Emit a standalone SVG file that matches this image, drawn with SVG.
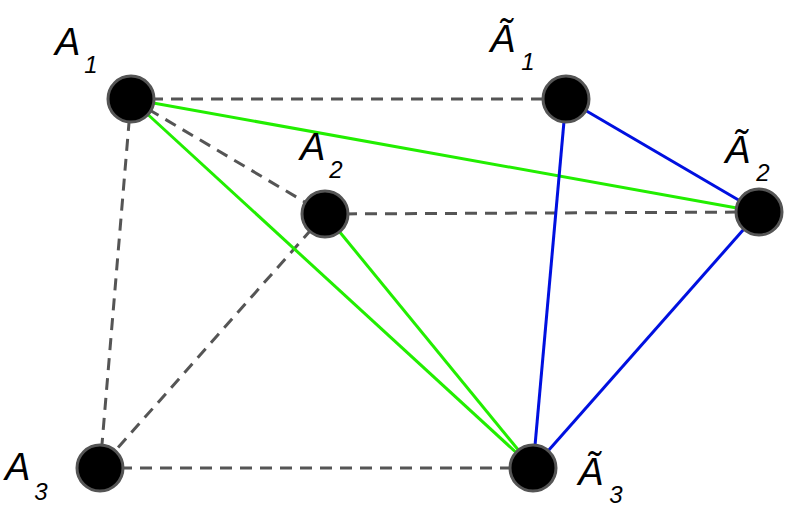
<svg xmlns="http://www.w3.org/2000/svg" width="796" height="522" viewBox="0 0 796 522">
<style>
.d{stroke:#555;stroke-width:3;stroke-dasharray:12,8;fill:none}
.g{stroke:#22ee00;stroke-width:3;fill:none}
.b{stroke:#0010e0;stroke-width:3;fill:none}
.n{fill:#000;stroke:#555;stroke-width:3}
.t{font-family:"Liberation Sans",Arial,sans-serif;font-style:italic;font-size:38px;fill:#000}
.s{font-size:24px}
</style>
<rect width="796" height="522" fill="#fff"/>
<g id="connectors">
<line class="d" x1="131" y1="99" x2="566" y2="99"/>
<line class="d" x1="131" y1="99" x2="325" y2="214"/>
<line class="d" x1="131" y1="99" x2="100" y2="468"/>
<line class="d" x1="325" y1="214" x2="759" y2="212"/>
<line class="d" x1="325" y1="214" x2="100" y2="468"/>
<line class="d" x1="100" y1="468" x2="533" y2="468"/>
<line class="g" x1="131" y1="99" x2="759" y2="212"/>
<line class="g" x1="131" y1="99" x2="533" y2="468"/>
<line class="g" x1="325" y1="214" x2="533" y2="468"/>
<line class="b" x1="566" y1="99" x2="759" y2="212"/>
<line class="b" x1="566" y1="99" x2="533" y2="468"/>
<line class="b" x1="759" y1="212" x2="533" y2="468"/>
</g>
<g id="A1"><circle class="n" cx="131" cy="99" r="23"/><text class="t" x="55" y="55">A<tspan class="s" dx="4" dy="18">1</tspan></text></g>
<g id="A2"><circle class="n" cx="325" cy="214" r="23"/><text class="t" x="300" y="160">A<tspan class="s" dx="4" dy="18">2</tspan></text></g>
<g id="A3"><circle class="n" cx="100" cy="468" r="23"/><text class="t" x="5" y="480">A<tspan class="s" dx="4" dy="20">3</tspan></text></g>
<g id="At1"><circle class="n" cx="566" cy="99" r="23"/><text class="t" x="490" y="52">Ã<tspan class="s" dx="6" dy="18">1</tspan></text></g>
<g id="At2"><circle class="n" cx="759" cy="212" r="23"/><text class="t" x="725" y="163">Ã<tspan class="s" dx="6" dy="18">2</tspan></text></g>
<g id="At3"><circle class="n" cx="533" cy="468" r="23"/><text class="t" x="578" y="485">Ã<tspan class="s" dx="6" dy="18">3</tspan></text></g>
</svg>
